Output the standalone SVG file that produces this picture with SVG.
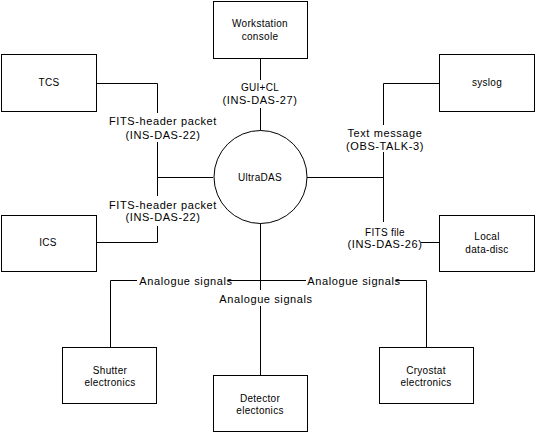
<svg xmlns="http://www.w3.org/2000/svg" width="538" height="434" viewBox="0 0 538 434">
<style>
.b{fill:#fff;stroke:#000;stroke-width:1}
.c{fill:none;stroke:#000;stroke-width:1}
text{font-family:"Liberation Sans",Arial,sans-serif;font-size:11px;letter-spacing:0.6px;fill:#000;text-anchor:middle}
.s{font-size:10px;letter-spacing:0.3px}
</style>
<rect width="538" height="434" fill="#fff"/>
<g id="connectors">
<path class="c" d="M260.5 58V80M260.5 108V131"/>
<path class="c" d="M97 83.5H157.5V113M157.5 142V196M157.5 177.5H213M157.5 226V242.5H97"/>
<path class="c" d="M439 83.5H383.5V125M383.5 152V222M383.5 177.5H307M421 242.5H439"/>
<path class="c" d="M260.5 223V290M260.5 306V375"/>
<path class="c" d="M110.5 347V280.5H137M228 280.5H306M396 280.5H426.5V347"/>
</g>
<g id="labels">
<text x="163" y="125">FITS-header packet</text>
<text x="163" y="139">(INS-DAS-22)</text>
<text x="163" y="209">FITS-header packet</text>
<text x="163" y="221">(INS-DAS-22)</text>
<text x="260" y="91" class="s">GUI+CL</text>
<text x="260" y="104">(INS-DAS-27)</text>
<text x="385" y="137">Text message</text>
<text x="385" y="150">(OBS-TALK-3)</text>
<text x="385" y="236" class="s">FITS file</text>
<text x="385" y="248">(INS-DAS-26)</text>
<text x="186" y="285">Analogue signals</text>
<text x="354" y="285">Analogue signals</text>
<text x="266" y="303">Analogue signals</text>
</g>
<g id="ultradas">
<circle class="b" cx="260.5" cy="177" r="46.5"/>
<text x="260" y="181" class="s">UltraDAS</text>
</g>
<g id="workstation">
<rect class="b" x="213.5" y="1.5" width="94" height="57"/>
<text x="260" y="27" class="s">Workstation</text>
<text x="260" y="40" class="s">console</text>
</g>
<g id="tcs">
<rect class="b" x="1.5" y="54.5" width="95" height="57"/>
<text x="49" y="86" class="s">TCS</text>
</g>
<g id="ics">
<rect class="b" x="1.5" y="215.5" width="95" height="56"/>
<text x="48" y="246" class="s">ICS</text>
</g>
<g id="syslog">
<rect class="b" x="439.5" y="54.5" width="95" height="57"/>
<text x="487" y="86" class="s">syslog</text>
</g>
<g id="datadisc">
<rect class="b" x="439.5" y="215.5" width="95" height="56"/>
<text x="487" y="240" class="s">Local</text>
<text x="487" y="253" class="s">data-disc</text>
</g>
<g id="shutter">
<rect class="b" x="62.5" y="347.5" width="94" height="56"/>
<text x="110" y="374" class="s">Shutter</text>
<text x="110" y="386" class="s">electronics</text>
</g>
<g id="detector">
<rect class="b" x="213.5" y="375.5" width="94" height="56"/>
<text x="260" y="402" class="s">Detector</text>
<text x="260" y="414" class="s">electonics</text>
</g>
<g id="cryostat">
<rect class="b" x="379.5" y="347.5" width="94" height="56"/>
<text x="426" y="374" class="s">Cryostat</text>
<text x="426" y="386" class="s">electronics</text>
</g>
</svg>
